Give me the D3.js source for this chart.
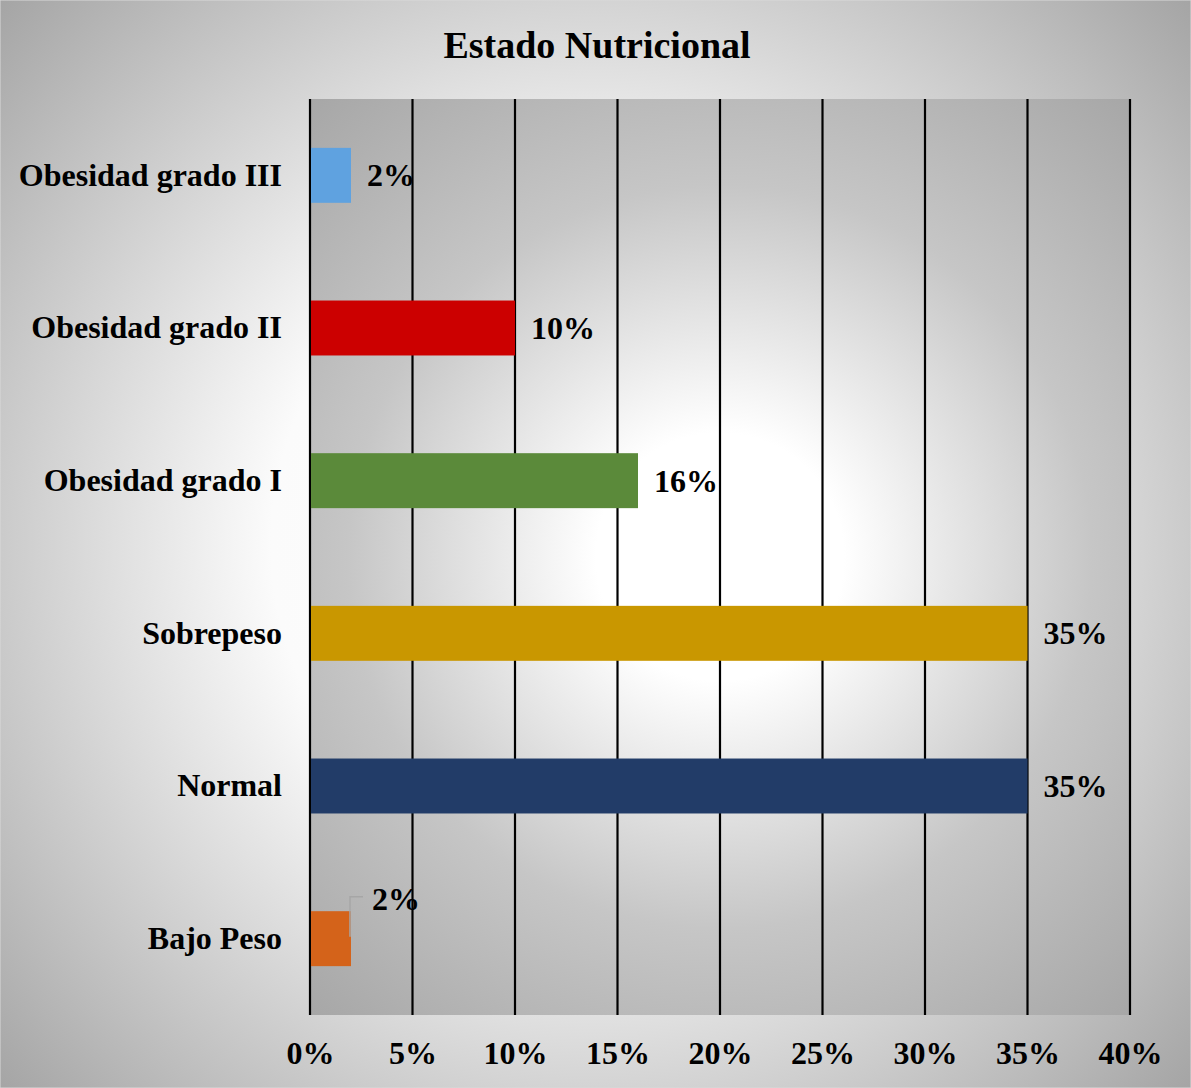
<!DOCTYPE html>
<html><head><meta charset="utf-8">
<script src="https://cdn.jsdelivr.net/npm/d3@7"></script>
<style>html,body{margin:0;padding:0;background:#fff;}svg{display:block;}</style>
</head><body>
<script>
const categories = ["Obesidad grado III","Obesidad grado II","Obesidad grado I","Sobrepeso","Normal","Bajo Peso"];
const values = [2, 10, 16, 35, 35, 2];
const barColors = ["#5fa2e0","#cc0000","#5b8a3a","#c99700","#223c68","#d4631a"];
const valueLabels = ["2%","10%","16%","35%","35%","2%"];
const xTicks = [0,5,10,15,20,25,30,35,40];
const title = "Estado Nutricional";

const W = 1191, H = 1088;
const m = {left:310, right:61, top:99, bottom:73};
const font = "'Liberation Serif','Times New Roman',serif";
const fs = 32;

const svg = d3.select("body").append("svg").attr("width",W).attr("height",H);
const defs = svg.append("defs");
const g1 = defs.append("radialGradient").attr("id","bgGrad").attr("gradientUnits","userSpaceOnUse")
  .attr("cx",595).attr("cy",544).attr("r",810);
g1.append("stop").attr("offset",0).attr("stop-color","#ffffff");
g1.append("stop").attr("offset",0.4).attr("stop-color","#fbfbfb");
g1.append("stop").attr("offset",1).attr("stop-color","#a4a4a4");

const pw = W - m.left - m.right, ph = H - m.top - m.bottom;
const g2 = defs.append("radialGradient").attr("id","plotGrad").attr("gradientUnits","userSpaceOnUse")
  .attr("cx",m.left+pw/2).attr("cy",m.top+ph/2).attr("r",620);
g2.append("stop").attr("offset",0).attr("stop-color","#ffffff");
g2.append("stop").attr("offset",0.2).attr("stop-color","#ffffff");
g2.append("stop").attr("offset",0.6).attr("stop-color","#c6c6c6");
g2.append("stop").attr("offset",1).attr("stop-color","#a6a6a6");

svg.append("rect").attr("x",0).attr("y",0).attr("width",W).attr("height",H).attr("fill","url(#bgGrad)")
  .attr("stroke","#d9d9d9").attr("stroke-width",1);
svg.append("rect").attr("x",m.left).attr("y",m.top).attr("width",pw).attr("height",ph).attr("fill","url(#plotGrad)");

const x = d3.scaleLinear().domain([0,40]).range([m.left, m.left+pw]);
const y = d3.scaleBand().domain(categories).range([m.top, m.top+ph]).paddingInner(0.64).paddingOuter(0.32);

// gridlines
svg.append("g").selectAll("line").data(xTicks).join("line")
  .attr("x1",d=>x(d)).attr("x2",d=>x(d)).attr("y1",m.top).attr("y2",m.top+ph)
  .attr("stroke","#000").attr("stroke-width",2.2);

// bars
svg.append("g").selectAll("rect").data(categories).join("rect")
  .attr("x",x(0)+1).attr("y",d=>y(d)).attr("width",(d,i)=>x(values[i])-x(0)-1).attr("height",y.bandwidth())
  .attr("fill",(d,i)=>barColors[i]);

// value labels
categories.forEach((c,i)=>{
  const isLast = i===categories.length-1;
  const bx = x(values[i]);
  const cy = y(c)+y.bandwidth()/2;
  if(isLast){
    svg.append("path").attr("d",`M${bx-1},${cy-2} L${bx-1},${cy-42} L${bx+12},${cy-42}`)
      .attr("fill","none").attr("stroke","#a6a6a6").attr("stroke-width",1.5);
    svg.append("text").attr("x",bx+21).attr("y",cy-40+11).text(valueLabels[i])
      .attr("font-family",font).attr("font-weight","bold").attr("font-size",fs).attr("fill","#000");
  } else {
    svg.append("text").attr("x",bx+16).attr("y",cy+11).text(valueLabels[i])
      .attr("font-family",font).attr("font-weight","bold").attr("font-size",fs).attr("fill","#000");
  }
});

// category labels
const yAxis = d3.axisLeft(y).tickSize(0).tickPadding(28);
const ya = svg.append("g").attr("transform",`translate(${m.left},0)`).call(yAxis);
ya.select(".domain").remove();
ya.selectAll("text").attr("font-family",font).attr("font-weight","bold").attr("font-size",fs).attr("fill","#000");

// x tick labels
const xAxis = d3.axisBottom(x).tickValues(xTicks).tickFormat(d=>d+"%").tickSize(0).tickPadding(26);
const xa = svg.append("g").attr("transform",`translate(0,${m.top+ph})`).call(xAxis);
xa.select(".domain").remove();
xa.selectAll("text").attr("font-family",font).attr("font-weight","bold").attr("font-size",fs).attr("fill","#000");

// title
svg.append("text").attr("x",597).attr("y",58).attr("text-anchor","middle").text(title)
  .attr("font-family",font).attr("font-weight","bold").attr("font-size",38).attr("fill","#000");
</script>
</body></html>
